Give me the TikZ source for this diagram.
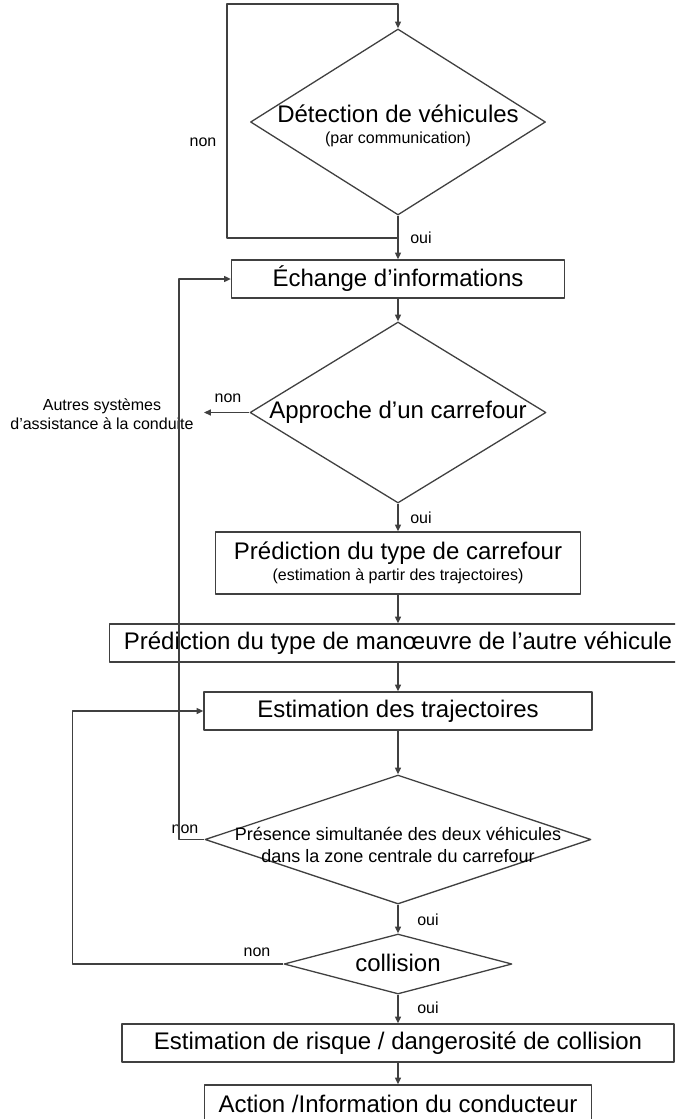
\documentclass[tikz,border=0pt]{standalone}
\usepackage{fontspec}
\setmainfont{Liberation Sans}
\usetikzlibrary{arrows.meta,shapes.geometric}

\begin{document}
\begin{tikzpicture}[x=0.5pt,y=-0.5pt,>={Triangle[length=3.4pt,width=3pt]},line join=round,
  proc/.style={draw=black!75,line width=0.65pt,rectangle,minimum height=19pt,inner sep=0pt,font=\fontsize{12}{14}\selectfont},
  decision/.style={draw=black!75,line width=0.65pt,diamond,inner sep=0pt},
  dtext/.style={align=center,inner sep=0pt},
  lbl/.style={font=\fontsize{8}{9.5}\selectfont,inner sep=0pt},
  link/.style={->,draw=black!75,line width=0.65pt}]
  \useasboundingbox (0,0) rectangle (675,1119);
  \clip (0,0) rectangle (675,1119);
  % boxes and decisions
  \node[decision,minimum width=147.5pt,minimum height=93pt] (det) at (398,122) {};
  \node[dtext,font=\fontsize{8}{10.5}\selectfont] (detT) at (398,126) {{\fontsize{12}{14}\selectfont Détection de véhicules}\\(par communication)};
  \node[proc,minimum width=166.5pt] (echange) at (398,279) {Échange d’informations};
  \node[decision,minimum width=148pt,minimum height=90.5pt] (approche) at (398,412.5) {};
  \node[dtext,font=\fontsize{12}{14}\selectfont] (approcheT) at (398,412) {Approche d’un carrefour};
  \node[lbl,align=center,inner sep=5pt] (autres) at (102,414) {Autres systèmes\\d’assistance à la conduite};
  \node[proc,minimum width=182.5pt,minimum height=31pt,align=center,font=\fontsize{8}{10.5}\selectfont] (predcar) at (398,563) {{\fontsize{12}{14}\selectfont Prédiction du type de carrefour}\\(estimation à partir des trajectoires)};
  \node[proc,minimum width=288.5pt] (manoeuvre) at (398,643) {Prédiction du type de manœuvre de l’autre véhicule};
  \node[proc,minimum width=194pt] (traj) at (398,711) {Estimation des trajectoires};
  \node[decision,minimum width=193pt,minimum height=64.5pt] (presence) at (398,839.5) {};
  \node[dtext,font=\fontsize{9}{11}\selectfont] (presenceT) at (398,845) {Présence simultanée des deux véhicules\\dans la zone centrale du carrefour};
  \node[decision,minimum width=114pt,minimum height=30pt] (collision) at (398,964) {};
  \node[dtext,font=\fontsize{12}{14}\selectfont] (collisionT) at (398,963) {collision};
  \node[proc,minimum width=276pt] (risque) at (398,1043) {Estimation de risque / dangerosité de collision};
  \node[proc,minimum width=193.5pt] (action) at (398,1104) {Action /Information du conducteur};
  % oui / non
  \node[lbl] (non1) at (203,142) {non};
  \node[lbl] (oui1) at (421,238) {oui};
  \node[lbl] (non2) at (228,398) {non};
  \node[lbl] (oui2) at (421,518) {oui};
  \node[lbl] (non3) at (185,829) {non};
  \node[lbl] (oui3) at (428,920) {oui};
  \node[lbl] (non4) at (257,952) {non};
  \node[lbl] (oui4) at (428,1008) {oui};
  % connectors
  \coordinate (j1) at (398,238);
  \coordinate (c1) at (227,4);
  \draw[link] (det.south) -- (echange.north);
  \draw[link] (j1) -| (c1) -| (det.north);
  \draw[link] (echange.south) -- (approche.north);
  \draw[link] (approche.west) -- (approche.west -| autres.east);
  \draw[link] (approche.south) -- (predcar.north);
  \draw[link] (predcar.south) -- (manoeuvre.north);
  \draw[link] (manoeuvre.south) -- (traj.north);
  \draw[link] (traj.south) -- (presence.north);
  \draw[link] (presence.west) -| ([xshift=-26pt]echange.west) -- (echange.west);
  \draw[link] (presence.south) -- (collision.north);
  \draw[link] (collision.west) -| ([xshift=-65.5pt]traj.west) -- (traj.west);
  \draw[link] (collision.south) -- (risque.north);
  \draw[link] (risque.south) -- (action.north);
\end{tikzpicture}
\end{document}
